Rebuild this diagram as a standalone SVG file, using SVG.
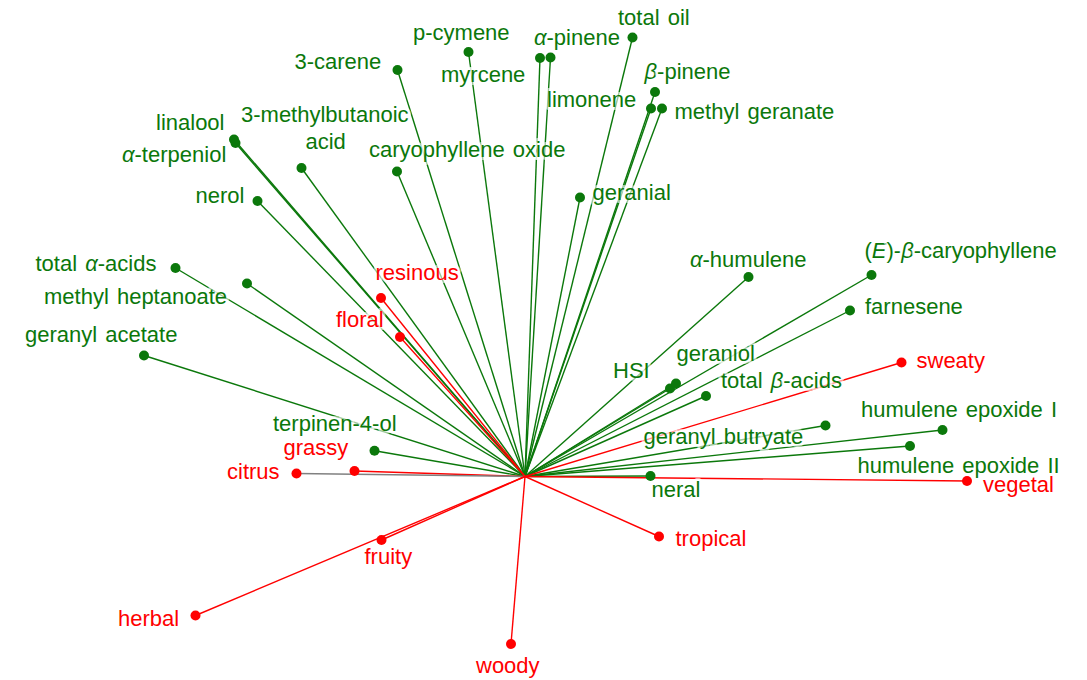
<svg xmlns="http://www.w3.org/2000/svg" width="1087" height="680" viewBox="0 0 1087 680">
<style>
text{font-family:"Liberation Sans",Arial,sans-serif;font-size:22px;word-spacing:2px;paint-order:stroke;stroke:#fff;stroke-opacity:0.6;stroke-width:6px;stroke-linejoin:round}
.g text{fill:#0b780b}
.r text{fill:#ff0000}
.g circle{fill:#0b780b}
.r circle{fill:#ff0000}
#connectors line{stroke-width:1.4}
.lg{stroke:#0b780b}
.lr{stroke:#ff0000}
.lk{stroke:#808080}
tspan.i{font-style:italic}
</style>
<rect width="1087" height="680" fill="#fff"/>
<g id="connectors">
<line class="lg" x1="525" y1="476.5" x2="632.5" y2="37.5"/>
<line class="lg" x1="525" y1="476.5" x2="550.5" y2="57.5"/>
<line class="lg" x1="525" y1="476.5" x2="540" y2="58"/>
<line class="lg" x1="525" y1="476.5" x2="468.5" y2="52"/>
<line class="lg" x1="525" y1="476.5" x2="397.5" y2="70"/>
<line class="lg" x1="525" y1="476.5" x2="655" y2="92"/>
<line class="lg" x1="525" y1="476.5" x2="651" y2="108.5"/>
<line class="lg" x1="525" y1="476.5" x2="662" y2="108.5"/>
<line class="lg" x1="525" y1="476.5" x2="234" y2="139.5"/>
<line class="lg" x1="525" y1="476.5" x2="235.5" y2="143"/>
<line class="lg" x1="525" y1="476.5" x2="301.5" y2="168"/>
<line class="lg" x1="525" y1="476.5" x2="397" y2="171.5"/>
<line class="lg" x1="525" y1="476.5" x2="580" y2="197.5"/>
<line class="lg" x1="525" y1="476.5" x2="257.5" y2="201"/>
<line class="lg" x1="525" y1="476.5" x2="175.5" y2="268"/>
<line class="lg" x1="525" y1="476.5" x2="247" y2="283.5"/>
<line class="lg" x1="525" y1="476.5" x2="144" y2="355.5"/>
<line class="lg" x1="525" y1="476.5" x2="374.5" y2="450.7"/>
<line class="lg" x1="525" y1="476.5" x2="748.5" y2="277"/>
<line class="lg" x1="525" y1="476.5" x2="871.5" y2="275"/>
<line class="lg" x1="525" y1="476.5" x2="850" y2="310.5"/>
<line class="lg" x1="525" y1="476.5" x2="670" y2="388.5"/>
<line class="lg" x1="525" y1="476.5" x2="676" y2="383.5"/>
<line class="lg" x1="525" y1="476.5" x2="706" y2="396"/>
<line class="lg" x1="525" y1="476.5" x2="825.5" y2="425.5"/>
<line class="lg" x1="525" y1="476.5" x2="942.5" y2="430"/>
<line class="lg" x1="525" y1="476.5" x2="910" y2="446"/>
<line class="lg" x1="525" y1="476.5" x2="650.5" y2="476"/>
<line class="lr" x1="525" y1="476.5" x2="381" y2="298"/>
<line class="lr" x1="525" y1="476.5" x2="400" y2="337"/>
<line class="lr" x1="525" y1="476.5" x2="901.5" y2="362.5"/>
<line class="lr" x1="525" y1="476.5" x2="354.5" y2="471"/>
<line class="lk" x1="525" y1="476.5" x2="296.5" y2="473.5"/>
<line class="lr" x1="525" y1="476.5" x2="967" y2="481"/>
<line class="lr" x1="525" y1="476.5" x2="381.5" y2="540"/>
<line class="lr" x1="525" y1="476.5" x2="659" y2="536.5"/>
<line class="lr" x1="525" y1="476.5" x2="195.5" y2="615.5"/>
<line class="lr" x1="525" y1="476.5" x2="511" y2="644"/>
</g>
<g id="n-total-oil" class="g"><text x="618" y="25">total oil</text><circle cx="632.5" cy="37.5" r="5"/></g>
<g id="n-alpha-pinene" class="g"><text x="534" y="44.5"><tspan class="i">α</tspan>-pinene</text><circle cx="550.5" cy="57.5" r="5"/></g>
<g id="n-myrcene" class="g"><text x="441" y="82">myrcene</text><circle cx="540" cy="58" r="5"/></g>
<g id="n-p-cymene" class="g"><text x="413" y="39.5">p-cymene</text><circle cx="468.5" cy="52" r="5"/></g>
<g id="n-3-carene" class="g"><text x="294.5" y="68.5">3-carene</text><circle cx="397.5" cy="70" r="5"/></g>
<g id="n-beta-pinene" class="g"><text x="644.5" y="78.5"><tspan class="i">β</tspan>-pinene</text><circle cx="655" cy="92" r="5"/></g>
<g id="n-limonene" class="g"><text x="547" y="106.5">limonene</text><circle cx="651" cy="108.5" r="5"/></g>
<g id="n-methyl-geranate" class="g"><text x="674.5" y="118.5">methyl geranate</text><circle cx="662" cy="108.5" r="5"/></g>
<g id="n-linalool" class="g"><text x="156" y="129.5">linalool</text><circle cx="234" cy="139.5" r="5"/></g>
<g id="n-alpha-terpeniol" class="g"><text x="122" y="162"><tspan class="i">α</tspan>-terpeniol</text><circle cx="235.5" cy="143" r="5"/></g>
<g id="n-3-methylbutanoic-acid" class="g"><text x="241" y="122">3-methylbutanoic</text><text x="305.5" y="148.5">acid</text><circle cx="301.5" cy="168" r="5"/></g>
<g id="n-caryophyllene-oxide" class="g"><text x="369" y="156.5">caryophyllene oxide</text><circle cx="397" cy="171.5" r="5"/></g>
<g id="n-geranial" class="g"><text x="592.5" y="199.5">geranial</text><circle cx="580" cy="197.5" r="5"/></g>
<g id="n-nerol" class="g"><text x="195.5" y="202.5">nerol</text><circle cx="257.5" cy="201" r="5"/></g>
<g id="n-total-alpha-acids" class="g"><text x="35.5" y="271">total <tspan class="i">α</tspan>-acids</text><circle cx="175.5" cy="268" r="5"/></g>
<g id="n-methyl-heptanoate" class="g"><text x="44" y="303.5">methyl heptanoate</text><circle cx="247" cy="283.5" r="5"/></g>
<g id="n-geranyl-acetate" class="g"><text x="25" y="342">geranyl acetate</text><circle cx="144" cy="355.5" r="5"/></g>
<g id="n-terpinen-4-ol" class="g"><text x="273" y="431">terpinen-4-ol</text><circle cx="374.5" cy="450.7" r="5"/></g>
<g id="n-alpha-humulene" class="g"><text x="690" y="267"><tspan class="i">α</tspan>-humulene</text><circle cx="748.5" cy="277" r="5"/></g>
<g id="n-e-beta-caryophyllene" class="g"><text x="864.5" y="258">(<tspan class="i">E</tspan>)-<tspan class="i">β</tspan>-caryophyllene</text><circle cx="871.5" cy="275" r="5"/></g>
<g id="n-farnesene" class="g"><text x="865" y="314">farnesene</text><circle cx="850" cy="310.5" r="5"/></g>
<g id="n-hsi" class="g"><text x="613" y="378">HSI</text><circle cx="670" cy="388.5" r="5"/></g>
<g id="n-geraniol" class="g"><text x="676.5" y="360.7">geraniol</text><circle cx="676" cy="383.5" r="5"/></g>
<g id="n-total-beta-acids" class="g"><text x="721" y="388">total <tspan class="i">β</tspan>-acids</text><circle cx="706" cy="396" r="5"/></g>
<g id="n-geranyl-butryate" class="g"><text x="643.5" y="444">geranyl butryate</text><circle cx="825.5" cy="425.5" r="5"/></g>
<g id="n-humulene-epoxide-i" class="g"><text x="861" y="417">humulene epoxide I</text><circle cx="942.5" cy="430" r="5"/></g>
<g id="n-humulene-epoxide-ii" class="g"><text x="857.5" y="472.5">humulene epoxide II</text><circle cx="910" cy="446" r="5"/></g>
<g id="n-neral" class="g"><text x="651.5" y="497">neral</text><circle cx="650.5" cy="476" r="5"/></g>
<g id="n-resinous" class="r"><text x="375.5" y="279.5">resinous</text><circle cx="381" cy="298" r="5"/></g>
<g id="n-floral" class="r"><text x="336" y="327">floral</text><circle cx="400" cy="337" r="5"/></g>
<g id="n-sweaty" class="r"><text x="916.5" y="368">sweaty</text><circle cx="901.5" cy="362.5" r="5"/></g>
<g id="n-grassy" class="r"><text x="283.5" y="455">grassy</text><circle cx="354.5" cy="471" r="5"/></g>
<g id="n-citrus" class="r"><text x="227" y="478.5">citrus</text><circle cx="296.5" cy="473.5" r="5"/></g>
<g id="n-vegetal" class="r"><text x="983" y="492">vegetal</text><circle cx="967" cy="481" r="5"/></g>
<g id="n-fruity" class="r"><text x="364.5" y="564">fruity</text><circle cx="381.5" cy="540" r="5"/></g>
<g id="n-tropical" class="r"><text x="675.5" y="546">tropical</text><circle cx="659" cy="536.5" r="5"/></g>
<g id="n-herbal" class="r"><text x="118" y="625.5">herbal</text><circle cx="195.5" cy="615.5" r="5"/></g>
<g id="n-woody" class="r"><text x="476" y="672.5">woody</text><circle cx="511" cy="644" r="5"/></g>
</svg>
